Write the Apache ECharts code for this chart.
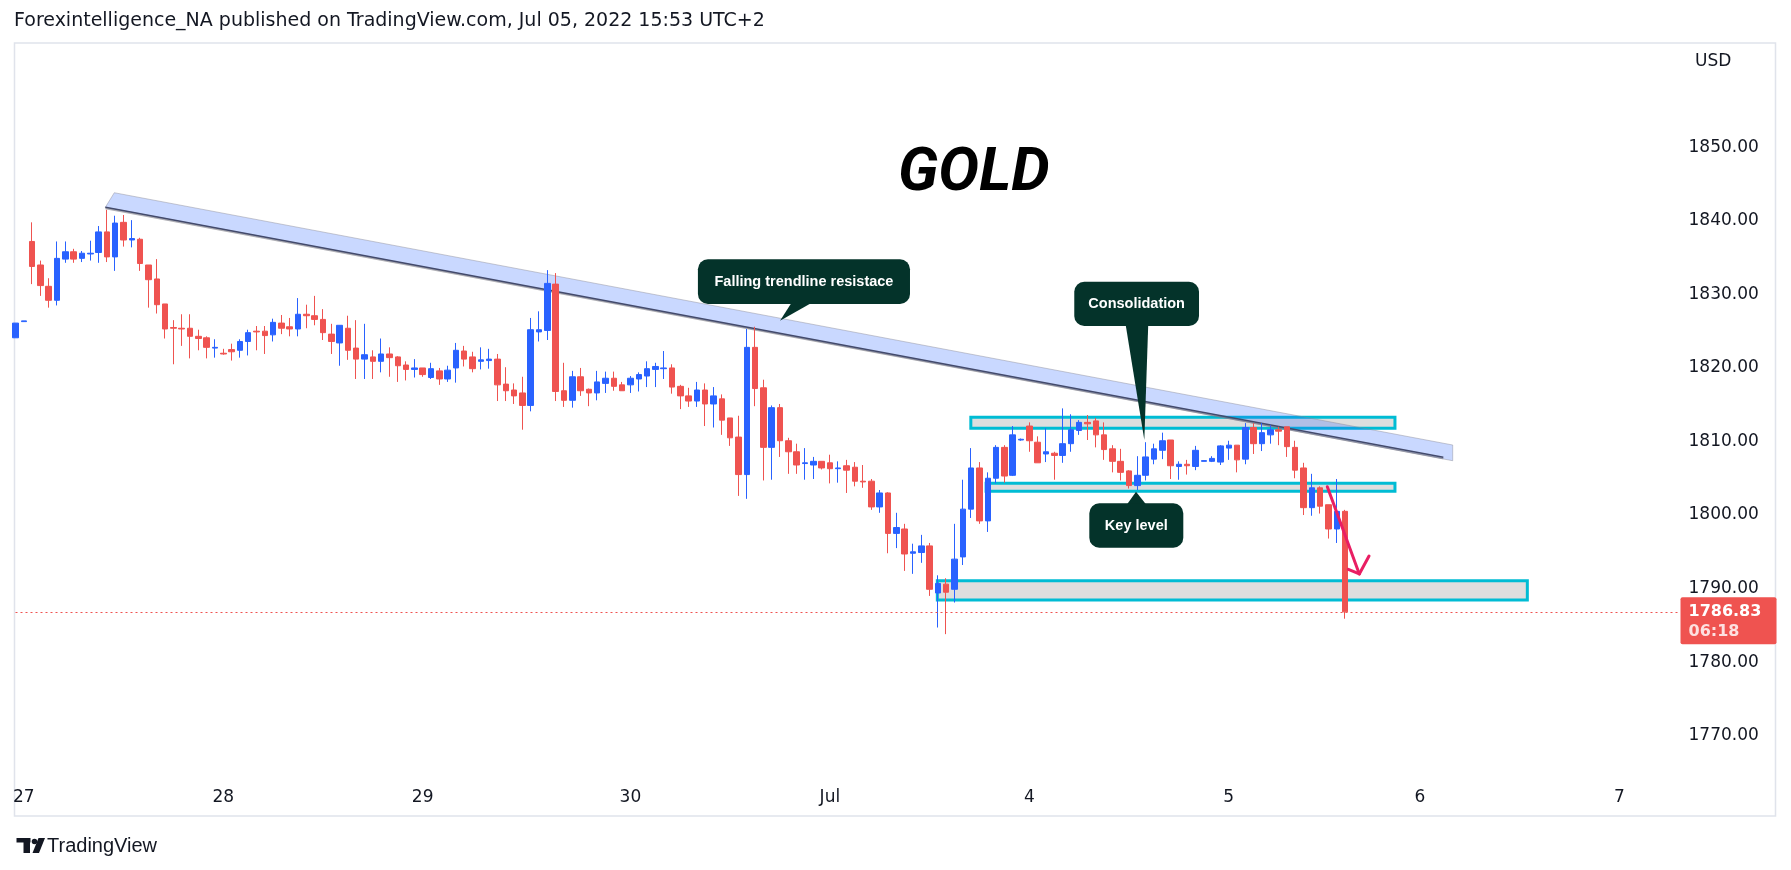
<!DOCTYPE html>
<html><head><meta charset="utf-8">
<script src="https://cdn.jsdelivr.net/npm/echarts@6/dist/echarts.min.js"></script>
<style>html,body{margin:0;padding:0;background:#fff}#c{width:1791px;height:870px}</style>
</head><body><div id="c"></div><script>
// ---- hourly XAUUSD candles (first is the last bar of Jun 24, clipped at the left edge) ----
const opens = [1824.1,1826.3,1837.2,1834.0,1831.1,1829.2,1834.8,1835.8,1834.9,1835.5,1835.7,1838.5,1835.1,1839.8,1837.4,1837.5,1834.0,1832.1,1828.7,1825.5,1825.4,1825.4,1824.3,1824.1,1822.7,1822.0,1822.5,1822.4,1823.6,1825.0,1825.0,1824.5,1826.1,1825.6,1825.3,1827.3,1827.1,1826.6,1824.6,1823.4,1825.4,1822.7,1821.2,1821.5,1820.9,1821.9,1821.5,1820.4,1819.8,1820.0,1818.7,1819.6,1818.5,1820.0,1822.3,1821.5,1820.9,1821.0,1821.2,1817.8,1817.0,1816.6,1814.9,1824.9,1825.1,1831.4,1816.9,1815.6,1818.8,1817.1,1816.6,1817.9,1818.6,1817.7,1817.7,1818.5,1818.9,1819.8,1819.9,1820.0,1817.5,1816.2,1815.5,1817.0,1815.1,1815.8,1813.2,1810.6,1805.5,1822.8,1817.3,1809.2,1814.6,1810.1,1808.6,1807.0,1806.8,1807.3,1807.1,1806.3,1806.7,1806.5,1804.6,1804.6,1801.1,1803.0,1797.5,1798.1,1794.8,1794.9,1795.8,1789.4,1790.6,1789.9,1794.3,1800.8,1806.4,1799.2,1805.0,1809.2,1805.4,1810.2,1812.1,1809.9,1808.3,1808.4,1808.1,1809.7,1811.5,1812.6,1812.8,1810.9,1809.0,1807.3,1806.0,1804.0,1805.4,1807.6,1808.8,1810.2,1806.6,1806.9,1806.6,1807.3,1807.3,1807.2,1809.1,1809.5,1807.6,1811.9,1809.7,1810.9,1811.6,1812.0,1809.2,1806.4,1801.0,1803.7,1801.4,1798.1,1800.5];
const closes = [1826.1,1826.4,1833.8,1831.2,1829.2,1834.9,1835.8,1834.8,1835.6,1835.6,1838.5,1835.1,1839.7,1837.4,1837.6,1834.2,1832.0,1828.6,1825.3,1825.4,1825.3,1824.3,1824.0,1822.8,1822.8,1821.9,1822.2,1823.6,1824.8,1824.9,1824.4,1826.2,1825.4,1825.3,1827.3,1827.1,1826.6,1824.8,1823.6,1825.8,1822.4,1821.2,1821.8,1820.9,1821.9,1821.4,1820.3,1819.8,1820.0,1819.1,1819.9,1818.5,1819.7,1822.4,1821.2,1819.9,1821.1,1821.2,1817.7,1816.9,1816.2,1814.9,1825.2,1825.2,1831.5,1816.8,1815.6,1818.8,1816.9,1816.6,1818.1,1818.6,1817.5,1816.9,1818.6,1819.1,1819.9,1820.2,1820.0,1817.4,1816.2,1815.5,1817.0,1815.1,1816.2,1812.9,1810.5,1805.5,1822.8,1817.2,1809.2,1814.6,1810.1,1808.6,1806.8,1807.1,1807.3,1806.4,1806.3,1806.4,1806.1,1804.6,1804.5,1801.1,1803.0,1797.5,1798.3,1794.7,1795.0,1795.8,1789.9,1790.7,1789.5,1794.0,1800.8,1806.4,1799.2,1805.0,1809.2,1805.3,1810.9,1810.3,1810.1,1807.1,1808.6,1808.1,1809.7,1811.6,1812.6,1812.4,1810.9,1808.9,1807.3,1805.8,1804.0,1805.4,1807.9,1809.0,1810.1,1806.7,1806.9,1806.7,1808.8,1807.4,1807.7,1809.4,1809.5,1807.5,1811.9,1809.7,1811.2,1811.6,1811.4,1809.3,1806.1,1801.0,1803.7,1801.2,1798.1,1800.5,1786.83];
const lows = [1824.1,1826.3,1831.4,1829.8,1828.2,1828.5,1834.3,1834.3,1834.4,1834.6,1834.3,1834.4,1833.2,1836.5,1836.4,1833.2,1828.2,1827.4,1824.0,1820.5,1823.0,1821.3,1822.4,1821.3,1821.4,1821.8,1821.0,1821.4,1821.7,1822.4,1821.9,1823.6,1824.6,1824.3,1824.3,1825.4,1825.8,1823.8,1821.9,1820.3,1821.1,1818.5,1818.5,1818.5,1819.4,1818.8,1818.1,1818.3,1818.7,1818.8,1818.5,1817.7,1818.1,1818.0,1820.2,1819.4,1819.8,1819.9,1815.5,1815.5,1815.1,1811.6,1814.1,1823.6,1823.8,1815.5,1814.7,1814.6,1816.2,1814.8,1815.6,1816.6,1816.9,1816.9,1816.6,1816.8,1817.4,1817.4,1818.5,1816.5,1814.4,1814.7,1814.7,1812.1,1811.9,1810.9,1809.4,1802.6,1802.2,1814.8,1804.7,1804.8,1807.9,1805.6,1805.6,1804.8,1804.9,1806.2,1804.3,1804.4,1803.0,1803.9,1803.7,1800.7,1800.3,1794.8,1795.5,1792.4,1792.0,1793.5,1789.0,1784.7,1783.8,1788.1,1793.2,1799.6,1798.8,1797.7,1804.3,1804.4,1805.3,1810.1,1808.6,1807.1,1807.2,1804.8,1807.1,1808.6,1810.9,1810.2,1809.2,1807.5,1805.8,1804.7,1803.6,1803.4,1804.7,1806.9,1807.6,1804.9,1804.8,1805.5,1806.1,1807.3,1807.2,1806.8,1807.5,1805.8,1806.9,1808.3,1808.7,1809.7,1809.5,1807.9,1805.0,1800.0,1799.9,1800.2,1796.8,1796.2,1785.9];
const highs = [1826.1,1826.4,1839.8,1834.6,1832.2,1837.2,1837.2,1836.2,1835.9,1837.3,1839.3,1841.5,1840.7,1840.8,1840.1,1837.7,1834.0,1834.8,1828.7,1826.5,1827.3,1827.3,1825.2,1824.3,1823.9,1822.6,1823.3,1823.9,1825.2,1825.7,1825.7,1826.7,1827.2,1826.8,1829.5,1828.6,1829.8,1828.0,1826.0,1825.8,1827.1,1826.5,1826.0,1822.4,1824.0,1822.8,1821.6,1820.9,1821.2,1820.0,1820.7,1820.0,1820.3,1823.4,1823.0,1822.2,1822.8,1822.6,1821.9,1820.1,1817.9,1818.8,1826.8,1827.7,1833.3,1832.9,1820.7,1819.6,1820.0,1817.2,1819.6,1819.5,1819.5,1818.1,1818.9,1819.4,1820.9,1820.7,1822.3,1820.5,1817.7,1817.3,1818.1,1817.9,1817.4,1816.4,1813.2,1813.5,1825.3,1825.6,1818.4,1814.9,1815.1,1810.5,1809.7,1809.1,1807.9,1807.3,1808.2,1807.3,1807.5,1807.2,1806.8,1804.9,1803.4,1803.1,1800.3,1798.8,1796.1,1797.3,1796.2,1791.8,1791.4,1798.8,1804.8,1809.1,1807.2,1805.8,1809.5,1809.5,1812.1,1810.4,1812.6,1810.7,1811.8,1808.6,1814.5,1813.7,1812.9,1813.6,1813.2,1812.6,1809.5,1809.0,1806.1,1808.0,1809.9,1809.7,1811.2,1810.2,1807.3,1807.5,1809.4,1807.4,1808.0,1809.5,1810.1,1809.5,1812.5,1812.5,1812.5,1812.2,1812.0,1812.0,1810.1,1807.1,1805.6,1803.9,1801.4,1804.9,1800.7];

// ---- axes ----
const slotCount = 201;                       // hourly slots shown (incl. empty future space)
const dayTickIndex = [1, 25, 49, 74, 98, 122, 146, 169, 193];
const dayTickLabel = ['27', '28', '29', '30', 'Jul', '4', '5', '6', '7'];
const yTicks = [1770, 1780, 1790, 1800, 1810, 1820, 1830, 1840, 1850];
const yMin = 1763.83, yMax = 1864.46;
const countdown = '06:18';

// ---- drawings (slot index, price) ----
const trendBand = [[10.81, 1841.84], [11.89, 1843.83], [172.95, 1809.52], [172.95, 1807.38]];
const trendLine = [[10.81, 1841.84], [171.82, 1807.85]];
const zones = [[114.96, 1813.29, 166.0, 1811.80], [116.8, 1804.31, 166.0, 1803.22], [110.93, 1791.07, 181.93, 1788.44]];
const calloutTexts = ['Falling trendline resistace', 'Consolidation', 'Key level'];
const calloutBoxes = [[82.12, 1834.77, 107.64, 1828.69], [127.41, 1831.72, 142.42, 1825.70], [129.22, 1801.59, 140.53, 1795.55]];
const calloutTails = [
  [[93.60, 1828.69], [96.41, 1828.69], [92.00, 1826.41]],
  [[133.54, 1825.70], [136.32, 1825.70], [135.84, 1810.20]],
  [[133.51, 1801.59], [136.32, 1801.59], [134.84, 1803.17]]
];
const arrowShaft = [[157.86, 1803.85], [161.71, 1791.98]];
const arrowHead = [[160.39, 1792.62], [161.71, 1791.98], [162.88, 1794.42]];
const titleText = 'GOLD';
const titleAnchor = [115.32, 1846.25];

const upColor = '#2962ff', downColor = '#ef5350', calloutColor = '#04332a';
const slots = Array.from({length: slotCount}, (_, i) => 'h' + i);
const candles = opens.map((o, i) => [o, closes[i], lows[i], highs[i]]);
const lastClose = closes[closes.length - 1];
const FONT = '"Liberation Sans", Arial, sans-serif';
const AXFONT = '"DejaVu Sans", Verdana, sans-serif';

const chart = echarts.init(document.getElementById('c'));
chart.setOption({
  animation: false,
  backgroundColor: '#ffffff',
  grid: {left: 15.5, right: 113.5, top: 41, bottom: 89},
  xAxis: [
    {type: 'category', data: slots, boundaryGap: false,
     axisLine: {show: false}, axisTick: {show: false}, splitLine: {show: false},
     axisLabel: {interval: (i) => dayTickIndex.indexOf(i) >= 0,
                 formatter: (v, i) => dayTickLabel[dayTickIndex.indexOf(i)] || '',
                 color: '#131722', fontSize: 17, fontFamily: AXFONT, margin: 8}},
    {type: 'value', min: 0, max: slotCount - 1, show: false}
  ],
  yAxis: {type: 'value', position: 'right', min: yMin, max: yMax,
    splitLine: {show: false}, axisLine: {show: false}, axisTick: {show: false},
    axisLabel: {customValues: yTicks, formatter: (v) => yTicks.indexOf(Math.round(v)) >= 0 && Math.abs(v - Math.round(v)) < 1e-6 ? v.toFixed(2) : '',
                color: '#131722', fontSize: 17, fontFamily: AXFONT, margin: 11, align: 'left'}},
  graphic: [
    {type: 'rect', shape: {x: 14.5, y: 43, width: 1761, height: 773}, style: {fill: 'none', stroke: '#e0e3eb', lineWidth: 1.5}, z: 0, silent: true},
    {type: 'text', x: 14, y: 21, style: {text: 'Forexintelligence_NA published on TradingView.com, Jul 05, 2022 15:53 UTC+2', fill: '#131722', font: '19px ' + AXFONT, verticalAlign: 'middle'}},
    {type: 'text', x: 1695, y: 62, style: {text: 'USD', fill: '#131722', font: '17px ' + AXFONT, verticalAlign: 'middle'}},
    {type: 'rect', shape: {x: 16.5, y: 838, width: 14, height: 4.5}, style: {fill: '#131722'}},
    {type: 'rect', shape: {x: 23.5, y: 838, width: 6.5, height: 15}, style: {fill: '#131722'}},
    {type: 'circle', shape: {cx: 34.5, cy: 841.5, r: 2.8}, style: {fill: '#131722'}},
    {type: 'polygon', shape: {points: [[38.5, 838], [45, 838], [39, 853], [32.5, 853]]}, style: {fill: '#131722'}},
    {type: 'text', x: 47, y: 846, style: {text: 'TradingView', fill: '#131722', font: '500 20px ' + FONT, verticalAlign: 'middle'}}
  ],
  series: [
    {type: 'custom', name: 'zones', xAxisIndex: 1, yAxisIndex: 0, z: 1, silent: true,
     data: zones, encode: {x: [0, 2], y: [1, 3]},
     renderItem: (params, api) => {
       const z = zones[params.dataIndex];
       const a = api.coord([z[0], z[1]]), b = api.coord([z[2], z[3]]);
       return {type: 'rect', shape: {x: a[0], y: a[1], width: b[0] - a[0], height: b[1] - a[1]},
               style: {fill: 'rgba(128,128,128,0.26)', stroke: '#00bcd4', lineWidth: 3}};
     }},
    {type: 'custom', name: 'trend', xAxisIndex: 1, yAxisIndex: 0, z: 2, silent: true,
     data: [trendLine[0]], encode: {x: 0, y: 1},
     renderItem: (params, api) => {
       const pts = trendBand.map(p => api.coord(p));
       const l0 = api.coord(trendLine[0]), l1 = api.coord(trendLine[1]);
       return {type: 'group', children: [
         {type: 'polygon', shape: {points: pts}, style: {fill: 'rgba(41,98,255,0.25)', stroke: 'rgba(140,140,150,0.45)', lineWidth: 1}},
         {type: 'line', shape: {x1: l0[0], y1: l0[1] + 1.2, x2: l1[0], y2: l1[1] + 1.2}, style: {stroke: 'rgba(120,120,130,0.6)', lineWidth: 1.5}},
         {type: 'line', shape: {x1: l0[0], y1: l0[1], x2: l1[0], y2: l1[1]}, style: {stroke: '#434a6b', lineWidth: 1.5}}
       ]};
     }},
    {type: 'candlestick', name: 'XAUUSD', xAxisIndex: 0, yAxisIndex: 0, z: 3,
     data: candles, barWidth: 6, clip: true,
     itemStyle: {color: upColor, color0: downColor, borderColor: upColor, borderColor0: downColor, borderWidth: 1},
     markLine: {silent: true, symbol: ['none', 'none'], precision: 2,
       lineStyle: {color: '#ef5350', type: [2, 3], width: 1},
       label: {show: true, position: 'end', distance: 3, offset: [0, 9],
         formatter: '{p|' + lastClose.toFixed(2) + '}\n{t|' + countdown + '}',
         backgroundColor: '#ef5350', padding: [4, 8, 4, 8], borderRadius: 2,
         rich: {p: {color: '#ffffff', fontSize: 16, fontWeight: 'bold', fontFamily: AXFONT, lineHeight: 21, width: 80},
                t: {color: '#fde0e0', fontSize: 16, fontWeight: 'bold', fontFamily: AXFONT, lineHeight: 18, width: 80}}},
       data: [{yAxis: lastClose}]}},
    {type: 'custom', name: 'callouts', xAxisIndex: 1, yAxisIndex: 0, z: 4, silent: true,
     data: calloutBoxes, encode: {x: [0, 2], y: [1, 3]},
     renderItem: (params, api) => {
       const i = params.dataIndex, b = calloutBoxes[i];
       const p1 = api.coord([b[0], b[1]]), p2 = api.coord([b[2], b[3]]);
       const tail = calloutTails[i].map(p => api.coord(p));
       const inward = tail[2][1] > p2[1] ? -4 : 4;
       tail[0][1] += inward; tail[1][1] += inward;
       return {type: 'group', children: [
         {type: 'polygon', shape: {points: tail}, style: {fill: calloutColor}},
         {type: 'rect', shape: {x: p1[0], y: p1[1], width: p2[0] - p1[0], height: p2[1] - p1[1], r: 10}, style: {fill: calloutColor}},
         {type: 'text', x: (p1[0] + p2[0]) / 2, y: (p1[1] + p2[1]) / 2,
          style: {text: calloutTexts[i], fill: '#ffffff', font: 'bold 14.5px ' + FONT, align: 'center', verticalAlign: 'middle'}}
       ]};
     }},
    {type: 'custom', name: 'title', xAxisIndex: 1, yAxisIndex: 0, z: 4, silent: true,
     data: [titleAnchor], encode: {x: 0, y: 1},
     renderItem: (params, api) => {
       const p = api.coord(titleAnchor);
       return {type: 'text', x: p[0], y: p[1],
               style: {text: titleText, fill: '#000000', font: 'italic bold 61px Roboto, ' + FONT, align: 'center', verticalAlign: 'middle'}};
     }},
    {type: 'custom', name: 'arrow', xAxisIndex: 1, yAxisIndex: 0, z: 5, silent: true,
     data: [arrowShaft[0]], encode: {x: 0, y: 1},
     renderItem: (params, api) => {
       return {type: 'group', children: [
         {type: 'polyline', shape: {points: arrowShaft.map(p => api.coord(p))}, style: {stroke: '#e91e63', lineWidth: 3, lineCap: 'round', fill: 'none'}},
         {type: 'polyline', shape: {points: arrowHead.map(p => api.coord(p))}, style: {stroke: '#e91e63', lineWidth: 3, lineCap: 'round', lineJoin: 'round', fill: 'none'}}
       ]};
     }}
  ]
});
</script></body></html>
